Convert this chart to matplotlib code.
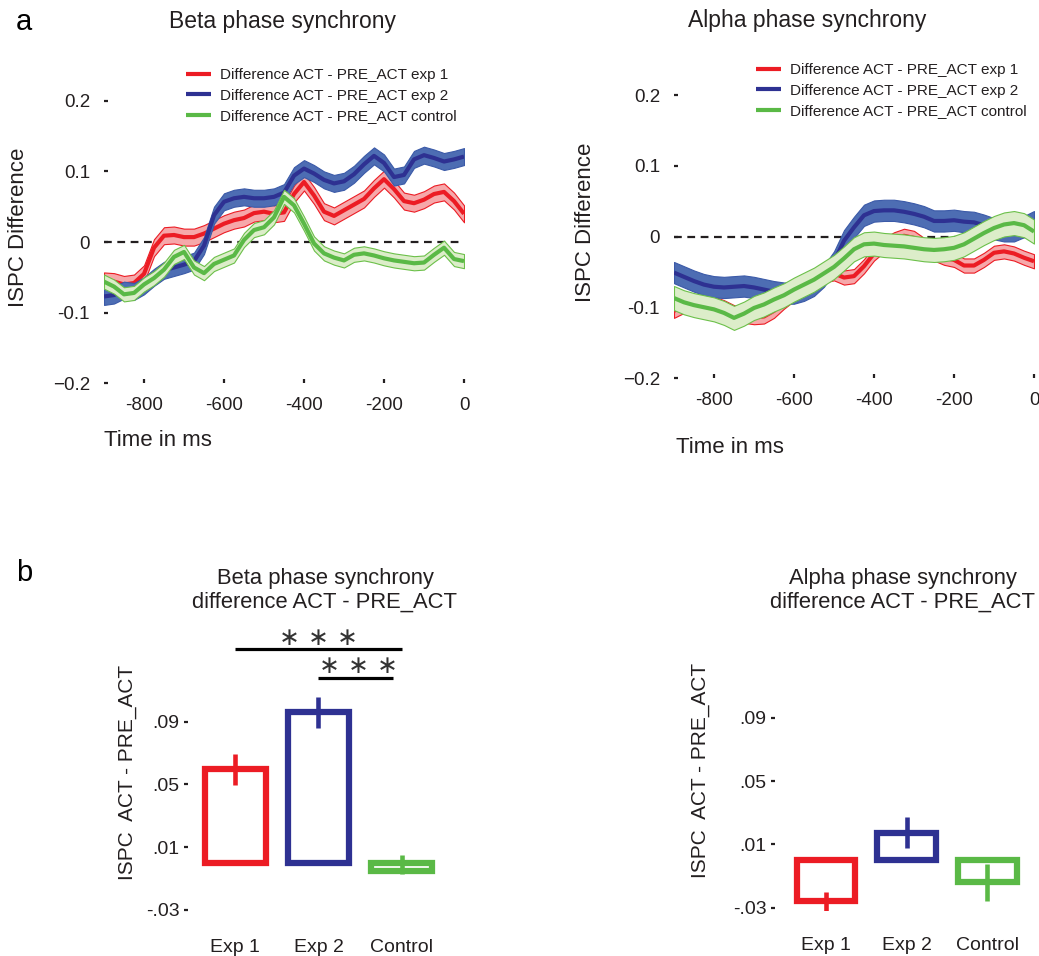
import numpy as np
import matplotlib.pyplot as plt

plt.rcParams['font.family'] = ['Liberation Sans', 'DejaVu Sans']
TXT = '#231f20'

# ---- data: time courses (ms, ISPC difference) ----
time_ms = np.arange(-900, 1, 25)

beta_exp1 = [-0.055, -0.056, -0.060, -0.058, -0.045, -0.008, 0.009, 0.010, 0.007, 0.007,
             0.012, 0.019, 0.026, 0.031, 0.034, 0.041, 0.043, 0.040, 0.042, 0.068,
             0.085, 0.066, 0.043, 0.037, 0.045, 0.053, 0.061, 0.076, 0.089, 0.075,
             0.058, 0.055, 0.060, 0.068, 0.071, 0.058, 0.040]
beta_exp2 = [-0.077, -0.075, -0.068, -0.070, -0.062, -0.050, -0.040, -0.036, -0.032, -0.027,
             -0.005, 0.038, 0.057, 0.062, 0.064, 0.062, 0.062, 0.064, 0.070, 0.094,
             0.104, 0.097, 0.088, 0.083, 0.086, 0.096, 0.110, 0.122, 0.112, 0.092,
             0.095, 0.117, 0.123, 0.119, 0.114, 0.117, 0.121]
beta_ctrl = [-0.056, -0.063, -0.074, -0.072, -0.060, -0.051, -0.039, -0.021, -0.014, -0.036,
             -0.044, -0.031, -0.025, -0.019, 0.003, 0.017, 0.021, 0.035, 0.064, 0.052,
             0.026, -0.002, -0.016, -0.022, -0.026, -0.018, -0.016, -0.019, -0.023, -0.026,
             -0.028, -0.030, -0.029, -0.018, -0.008, -0.024, -0.027]

alpha_exp1 = [-0.105, -0.098, -0.095, -0.094, -0.095, -0.100, -0.107, -0.112, -0.114, -0.113,
              -0.105, -0.092, -0.081, -0.071, -0.063, -0.055, -0.052, -0.058, -0.056, -0.042,
              -0.024, -0.012, -0.004, 0.001, -0.002, -0.012, -0.024, -0.030, -0.033, -0.041,
              -0.041, -0.033, -0.023, -0.021, -0.024, -0.030, -0.035]
alpha_exp2 = [-0.051, -0.057, -0.063, -0.068, -0.071, -0.072, -0.071, -0.070, -0.072, -0.075,
              -0.078, -0.080, -0.080, -0.076, -0.069, -0.056, -0.036, -0.006, 0.013, 0.030,
              0.036, 0.037, 0.037, 0.035, 0.032, 0.028, 0.022, 0.022, 0.023, 0.021,
              0.020, 0.016, 0.011, 0.008, 0.008, 0.014, 0.021]
alpha_ctrl = [-0.087, -0.093, -0.097, -0.100, -0.103, -0.108, -0.115, -0.109, -0.101, -0.096,
              -0.089, -0.083, -0.075, -0.068, -0.061, -0.052, -0.043, -0.031, -0.018, -0.011,
              -0.010, -0.012, -0.013, -0.014, -0.016, -0.018, -0.019, -0.018, -0.016, -0.011,
              -0.003, 0.005, 0.012, 0.017, 0.019, 0.016, 0.007]

# half width of the shaded bands (SEM)
beta_sem = [0.012, 0.012, 0.010]
alpha_sem = [0.010, 0.015, 0.017]

legend_labels = ['Difference ACT - PRE_ACT exp 1',
                 'Difference ACT - PRE_ACT exp 2',
                 'Difference ACT - PRE_ACT control']

# ---- data: bar charts ----
groups = ['Exp 1', 'Exp 2', 'Control']
beta_means = [0.0595, 0.096, -0.005]
beta_err_lo = [0.0097, 0.010, 0.002]
beta_err_hi = [0.0097, 0.010, 0.010]
alpha_means = [-0.026, 0.017, -0.014]
alpha_err_lo = [0.006, 0.0095, 0.0115]
alpha_err_hi = [0.006, 0.0105, 0.0115]

line_cols = ['#ec1c24', '#2e3192', '#5ab946']
fill_cols = ['#f6a8aa', '#4d6db3', '#dcedc9']
edge_cols = ['#ec1c24', '#3b5aa8', '#6cc04a']


def time_panel(ax, series, sems, title, title_x, title_y, legend_y):
    for i, (y, e) in enumerate(zip(series, sems)):
        y = np.array(y)
        ax.fill_between(time_ms, y - e, y + e, facecolor=fill_cols[i],
                        edgecolor=edge_cols[i], linewidth=0.8, zorder=2 + i)
        ax.plot(time_ms, y, color=line_cols[i], lw=3, zorder=2.5 + i,
                label=legend_labels[i], solid_capstyle='butt')
    ax.axhline(0, color='#231f20', lw=1.6, ls=(0, (3.5, 2.5)), zorder=1)
    ax.set_xlim(-900, 0)
    ax.set_ylim(-0.2, 0.2)
    ax.set_xticks([-800, -600, -400, -200, 0])
    ax.set_xticklabels(['-800', '-600', '-400', '-200', '0'])
    ax.set_yticks([-0.2, -0.1, 0, 0.1, 0.2])
    ax.set_yticklabels(['\u22120.2', '-0.1', '0', '0.1', '0.2'])
    for s in ax.spines.values():
        s.set_visible(False)
    ax.tick_params(axis='both', length=3, width=1.6, color=TXT, labelsize=13.5,
                   labelcolor=TXT, direction='in')
    ax.tick_params(axis='y', pad=10)
    ax.tick_params(axis='x', pad=10)
    ax.set_ylabel('ISPC Difference', fontsize=16, color=TXT)
    ax.text(title_x, title_y, title, transform=ax.transAxes, ha='center', va='center',
            fontsize=16.5, color=TXT)
    ax.legend(loc='upper left', bbox_to_anchor=(0.228, legend_y), frameon=False,
              fontsize=11, handlelength=1.65, handletextpad=0.6, labelspacing=0.43,
              borderpad=0, borderaxespad=0, labelcolor=TXT)


def bar_panel(ax, means, lo, hi, xleft):
    x = np.arange(len(groups))
    ax.bar(x, means, width=0.73, color='white', edgecolor=line_cols, linewidth=4.5,
           zorder=2)
    for i in range(len(groups)):
        ax.errorbar(x[i], means[i], yerr=[[lo[i]], [hi[i]]], fmt='none',
                    ecolor=line_cols[i], elinewidth=3.3, capsize=0, zorder=3)
    ax.set_xlim(xleft, 2.5)
    ax.set_ylim(-0.032, 0.15)
    ax.set_xticks(x)
    ax.set_xticklabels(groups)
    ax.set_yticks([-0.03, 0.01, 0.05, 0.09])
    ax.set_yticklabels(['-.03', '.01', '.05', '.09'])
    for s in ax.spines.values():
        s.set_visible(False)
    ax.tick_params(axis='x', length=0, pad=19, labelsize=14, labelcolor=TXT)
    ax.tick_params(axis='y', length=3, width=1.6, color=TXT, pad=3, labelsize=14,
                   labelcolor=TXT)


fig = plt.figure(figsize=(10.39, 9.56), dpi=100)

ax1 = fig.add_axes([0.1001, 0.599, 0.3465, 0.2956])
time_panel(ax1, [beta_exp1, beta_exp2, beta_ctrl], beta_sem,
           'Beta phase synchrony', 0.497, 1.28, 1.115)
ax1.yaxis.set_label_coords(-0.208, 0.553)
ax1.set_xlabel('Time in ms', fontsize=16, color=TXT, loc='left')
ax1.xaxis.set_label_coords(0.0, -0.165)

ax2 = fig.add_axes([0.6487, 0.6046, 0.3465, 0.296])
time_panel(ax2, [alpha_exp1, alpha_exp2, alpha_ctrl], alpha_sem,
           'Alpha phase synchrony', 0.369, 1.265, 1.113)
ax2.yaxis.set_label_coords(-0.217, 0.549)
ax2.set_xlabel('Time in ms', fontsize=16, color=TXT, loc='left')
ax2.xaxis.set_label_coords(0.005, -0.21)

ax3 = fig.add_axes([0.181, 0.045, 0.2454, 0.2986])
bar_panel(ax3, beta_means, beta_err_lo, beta_err_hi, -0.57)
ax3.set_ylabel('ISPC  ACT - PRE_ACT', fontsize=15, color=TXT)
ax3.yaxis.set_label_coords(-0.2, 0.494)
ax3.text(0.537, 1.13, 'Beta phase synchrony\ndifference ACT - PRE_ACT',
         transform=ax3.transAxes, ha='center', va='center', fontsize=15.8,
         color=TXT, linespacing=1.2)
# significance bars
ax3.plot([0, 2], [0.136, 0.136], color='black', lw=2.3, solid_capstyle='butt')
ax3.plot([1, 1.9], [0.1177, 0.1177], color='black', lw=2.3, solid_capstyle='butt')
ax3.text(1.0, 0.1435, '\u2217 \u2217 \u2217', ha='center', va='center', fontsize=18,
         color='#333333', family=['DejaVu Sans'])
ax3.text(1.48, 0.1255, '\u2217 \u2217 \u2217', ha='center', va='center', fontsize=18,
         color='#333333', family=['DejaVu Sans'])

ax4 = fig.add_axes([0.7459, 0.0472, 0.2433, 0.3012])
bar_panel(ax4, alpha_means, alpha_err_lo, alpha_err_hi, -0.632)
ax4.set_ylabel('ISPC  ACT - PRE_ACT', fontsize=15, color=TXT)
ax4.yaxis.set_label_coords(-0.257, 0.489)
ax4.text(0.506, 1.113, 'Alpha phase synchrony\ndifference ACT - PRE_ACT',
         transform=ax4.transAxes, ha='center', va='center', fontsize=15.8,
         color=TXT, linespacing=1.2)

fig.text(24 / 1039, 1 - 22 / 956, 'a', fontsize=21, ha='center', va='center', color='black')
fig.text(24 / 1039, 1 - 573 / 956, 'b', fontsize=21, ha='center', va='center', color='black')

fig.savefig('out.png', dpi=100)
